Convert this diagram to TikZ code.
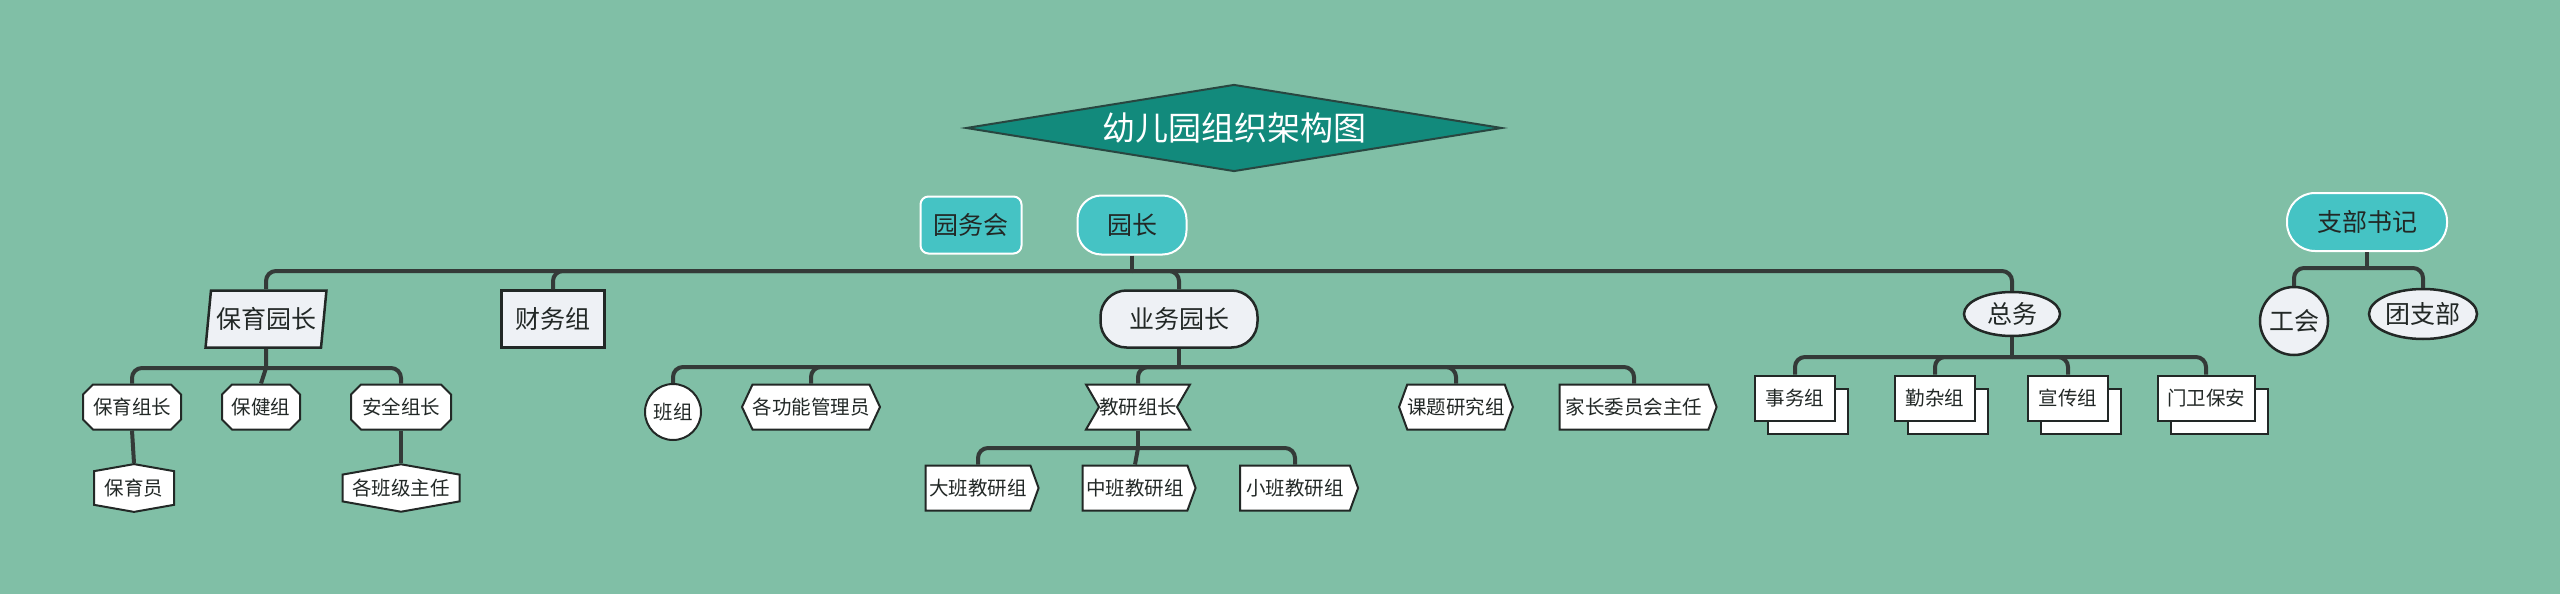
\documentclass[tikz,border=0pt]{standalone}
\usepackage{fontspec}
\setmainfont{Noto Sans CJK SC}
\usepackage{tikz}
\usetikzlibrary{positioning,shapes.geometric,shapes.misc,shapes.symbols,shadows}

\definecolor{bgc}{RGB}{128,191,166}
\definecolor{titlec}{RGB}{18,138,124}
\definecolor{titleedge}{RGB}{40,70,64}
\definecolor{cyanc}{RGB}{69,195,196}
\definecolor{palec}{RGB}{238,241,245}
\definecolor{linec}{RGB}{52,58,56}
\definecolor{inkc}{RGB}{34,40,38}

\begin{document}
\begin{tikzpicture}[
  x=1pt, y=-1pt,
  bigtxt/.style={font=\fontsize{25}{30}\selectfont},
  smalltxt/.style={font=\fontsize{19.5}{23}\selectfont},
  headbox/.style={
    diamond, aspect=6,
    draw=titleedge, line width=2pt,
    fill=titlec, text=white,
    inner sep=0pt,
    minimum width=536pt, minimum height=87pt,
    font=\fontsize{33}{38}\selectfont
  },
  lead/.style={
    rectangle, draw=white, line width=2pt,
    fill=cyanc, text=inkc,
    inner sep=0pt, minimum height=58pt,
    bigtxt
  },
  unit/.style={
    draw=inkc, line width=2.5pt,
    fill=palec, text=inkc,
    inner sep=0pt, minimum height=57pt,
    bigtxt
  },
  leaf/.style={
    draw=inkc, line width=2pt,
    fill=white, text=inkc,
    inner sep=0pt, minimum height=45pt,
    smalltxt
  },
  octbox/.style={leaf, chamfered rectangle,
    chamfered rectangle xsep=5pt, chamfered rectangle ysep=5pt},
  peakbox/.style={leaf, signal, signal to=north and south,
    signal pointer angle=160, minimum height=44pt},
  hexbox/.style={leaf, signal, signal to=west and east},
  arrowbox/.style={leaf, signal, signal to=east, signal pointer angle=140},
  bowbox/.style={leaf, signal, signal to=nowhere, signal from=west and east,
    signal pointer angle=120},
  stackbox/.style={leaf, rectangle,
    copy shadow={shadow xshift=13pt, shadow yshift=-13pt}},
  link/.style={draw=linec, line width=4pt, rounded corners=10pt}
]

\useasboundingbox (0,0) rectangle (2560,594);
\fill[bgc] (0,0) rectangle (2560,594);

\node[headbox] (title) at (1234,128) {幼儿园组织架构图};

\node[lead, rounded corners=8pt, minimum width=101pt, minimum height=57pt] (council) at (971,225) {园务会};
\node[lead, rounded corners=24pt, minimum width=109pt, minimum height=59pt] (head) at (1132,225) {园长};
\node[lead, rounded corners=28pt, minimum width=160pt] (party) at (2367,222) {支部书记};

\node[unit, trapezium, trapezium left angle=78, trapezium right angle=102,
  trapezium stretches=true, minimum width=121pt] (care) at (266,319) {保育园长};
\node[unit, rectangle, minimum width=103pt] (finance) at (553,319) {财务组};
\node[unit, rectangle, rounded corners=26pt, minimum width=157pt] (teach) at (1179,319) {业务园长};
\node[unit, ellipse, minimum width=96pt, minimum height=44pt] (general) at (2012,314) {总务};
\node[unit, circle, minimum size=68pt] (union) at (2294,321) {工会};
\node[unit, ellipse, minimum width=108pt, minimum height=50pt] (league) at (2423,314) {团支部};

\node[octbox, minimum width=98pt] (careLead) at (132,407) {保育组长};
\node[octbox, minimum width=78pt] (health) at (261,407) {保健组};
\node[octbox, minimum width=100pt] (safety) at (401,407) {安全组长};
\node[peakbox, minimum width=80pt] (nurse) at (134,488) {保育员};
\node[peakbox, minimum width=117pt] (classHead) at (401,488) {各班级主任};

\node[leaf, circle, minimum size=56pt] (classes) at (673,412) {班组};
\node[hexbox, signal pointer angle=130, minimum width=137pt] (keepers) at (811,407) {各功能管理员};
\node[bowbox, minimum width=96pt] (research) at (1138,407) {教研组长};
\node[hexbox, signal pointer angle=140, minimum width=113pt] (topics) at (1456,407) {课题研究组};
\node[arrowbox, minimum width=157pt] (parents) at (1634,407) {家长委员会主任};

\node[arrowbox, minimum width=113pt] (senior) at (978,488) {大班教研组};
\node[arrowbox, minimum width=113pt] (middle) at (1135,488) {中班教研组};
\node[arrowbox, minimum width=118pt] (junior) at (1295,488) {小班教研组};

\node[stackbox, minimum width=80pt] (affairs) at (1795,398) {事务组};
\node[stackbox, minimum width=80pt] (chores) at (1935,398) {勤杂组};
\node[stackbox, minimum width=80pt] (publicity) at (2068,398) {宣传组};
\node[stackbox, minimum width=97pt] (guards) at (2206,398) {门卫保安};

\coordinate (mainBus) at (1132,271);
\coordinate (careBus) at (266,368);
\coordinate (teachBus) at (1179,367);
\coordinate (researchBus) at (1138,448);
\coordinate (generalBus) at (2012,357);
\coordinate (partyBus) at (2367,268);

\draw[link] (head.south) -- (mainBus);
\foreach \n in {care,finance,teach,general}
  \draw[link] (mainBus) -| (\n.north);

\draw[link] (care.south) -- (careBus);
\draw[link] (careBus) -| (careLead.north);
\draw[link] (careBus) -- (health.north);
\draw[link] (careBus) -| (safety.north);
\draw[link] (careLead.south) -- (nurse.north);
\draw[link] (safety.south) -- (classHead.north);

\draw[link] (teach.south) -- (teachBus);
\foreach \n in {classes,keepers,research,topics,parents}
  \draw[link] (teachBus) -| (\n.north);

\draw[link] (research.south) -- (researchBus);
\draw[link] (researchBus) -| (senior.north);
\draw[link] (researchBus) -- (middle.north);
\draw[link] (researchBus) -| (junior.north);

\draw[link] (general.south) -- (generalBus);
\foreach \n in {affairs,chores,publicity,guards}
  \draw[link] (generalBus) -| (\n.north);

\draw[link] (party.south) -- (partyBus);
\draw[link] (partyBus) -| (union.north);
\draw[link] (partyBus) -| (league.north);

\end{tikzpicture}
\end{document}
